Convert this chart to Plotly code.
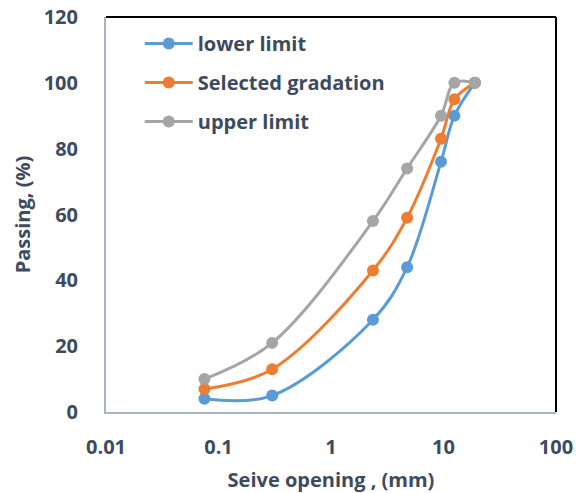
import plotly.graph_objects as go

# Sieve sizes (mm) and percent passing for each gradation curve
sieve_mm = [0.075, 0.3, 2.36, 4.75, 9.5, 12.5, 19]
lower_limit = [4, 5, 28, 44, 76, 90, 100]
selected = [7, 13, 43, 59, 83, 95, 100]
upper_limit = [10, 21, 58, 74, 90, 100, 100]

series_names = ["lower limit", "Selected gradation", "upper limit"]
series_colors = ["#5B9BD5", "#ED7D31", "#A5A5A5"]
x_tickvals = [0.01, 0.1, 1, 10, 100]
x_ticktext = ["0.01", "0.1", "1", "10", "100"]
y_tickvals = [0, 20, 40, 60, 80, 100, 120]

text_color = "#3E4B5E"
font_family = "'Open Sans', Lato, sans-serif"

fig = go.Figure()
for name, ys, color in zip(series_names, [lower_limit, selected, upper_limit], series_colors):
    fig.add_trace(go.Scatter(
        x=sieve_mm, y=ys, name=name, legendgroup=name,
        mode="lines+markers",
        line=dict(color=color, width=3, shape="spline", smoothing=1.0),
        marker=dict(color=color, size=12),
    ))

bold = dict(family=font_family, size=20, color=text_color, weight="bold")

fig.update_layout(
    width=582, height=493,
    margin=dict(l=106, r=26, t=17, b=81),
    paper_bgcolor="white", plot_bgcolor="white",
    font=dict(family=font_family, size=20, color=text_color),
    showlegend=True,
    legend=dict(
        x=0.075, y=0.982, xanchor="left", yanchor="top",
        bgcolor="rgba(0,0,0,0)",
        font=bold,
        itemwidth=48,
        traceorder="grouped",
        tracegroupgap=10,
    ),
    xaxis=dict(
        type="log", range=[-2, 2], automargin=False,
        tickvals=x_tickvals, ticktext=x_ticktext,
        showgrid=False, zeroline=False,
        showline=True, linecolor="#A9B4C6", linewidth=2,
        ticks="", ticklabelstandoff=16,
        tickfont=bold,
        title=dict(text="Seive opening , (mm)", standoff=14, font=bold),
    ),
    yaxis=dict(
        range=[0, 120], tickvals=y_tickvals, automargin=False,
        showgrid=False, zeroline=False,
        showline=True, linecolor="#A9B4C6", linewidth=2,
        ticks="", ticklabelstandoff=22,
        tickfont=bold,
        title=dict(text="Passing, (%)", standoff=8, font=bold),
    ),
    shapes=[
        dict(type="line", xref="paper", yref="paper", x0=0, x1=1, y0=1, y1=1,
             line=dict(color="black", width=2)),
        dict(type="line", xref="paper", yref="paper", x0=1, x1=1, y0=0, y1=1,
             line=dict(color="black", width=2)),
    ],
)

fig.write_html("out.html")
